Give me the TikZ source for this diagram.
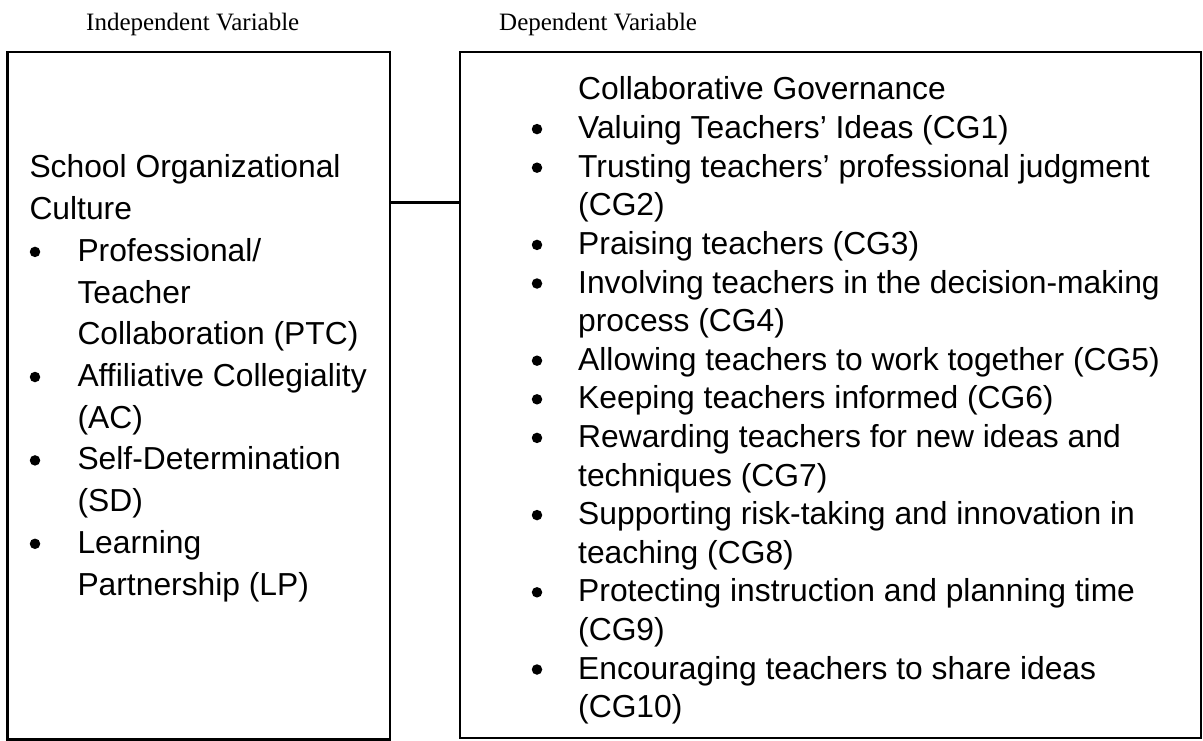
\documentclass[tikz,border=0pt]{standalone}
\usepackage{fontspec}
\setmainfont{Liberation Sans}
\newfontfamily\tnr{Liberation Serif}
\begin{document}
\begin{tikzpicture}[x=1pt,y=-1pt,
  box/.style={draw, line width=2.2pt, outer sep=0pt, inner sep=0pt, anchor=north west},
  txt/.style={anchor=base west, inner sep=0pt, font=\fontsize{31.8}{38.6}\selectfont},
  bul/.style={circle, fill=black, inner sep=0pt, minimum size=10.5pt},
  hdr/.style={anchor=base west, inner sep=0pt, font=\tnr\fontsize{25}{29}\selectfont},
  link/.style={line width=3.5pt}]
\useasboundingbox (0,0) rectangle (1203,741);
% headers
\node[hdr] (hiv) at (86,31) {Independent Variable};
\node[hdr] (hdv) at (499,31) {Dependent Variable};
% boxes
\node[box, minimum width=382.5pt, minimum height=687.8pt] (iv) at (7.5,51.7) {};
\node[box, minimum width=741pt, minimum height=686.5pt] (dv) at (460,51.7) {};
% connector
\coordinate (cy) at (0,202.7);
\draw[link] (iv.east |- cy) -- (dv.west |- cy);
% left text
\node[txt] (l1) at (29.3,178) {School Organizational};
\node[txt] (l2) at (29.3,219.7) {Culture};
\node[txt] (l3) at (77.3,261.4) {Professional/};
\node[txt] (l4) at (77.3,303.1) {Teacher};
\node[txt] (l5) at (77.3,344.8) {Collaboration (PTC)};
\node[txt] (l6) at (77.3,386.5) {Affiliative Collegiality};
\node[txt] (l7) at (77.3,428.2) {(AC)};
\node[txt] (l8) at (77.3,469.9) {Self-Determination};
\node[txt] (l9) at (77.3,511.6) {(SD)};
\node[txt] (l10) at (77.3,553.3) {Learning};
\node[txt] (l11) at (77.3,595) {Partnership (LP)};
\node[bul] (lb1) at (35,251.9) {};
\node[bul] (lb2) at (35,377) {};
\node[bul] (lb3) at (35,460.4) {};
\node[bul] (lb4) at (35,543.8) {};
% right text
\node[txt] (r1) at (578,100) {Collaborative Governance};
\node[txt] (r2) at (578,138.6) {Valuing Teachers’ Ideas (CG1)};
\node[txt] (r3) at (578,177.2) {Trusting teachers’ professional judgment};
\node[txt] (r4) at (578,215.8) {(CG2)};
\node[txt] (r5) at (578,254.4) {Praising teachers (CG3)};
\node[txt] (r6) at (578,293) {Involving teachers in the decision-making};
\node[txt] (r7) at (578,331.6) {process (CG4)};
\node[txt] (r8) at (578,370.2) {Allowing teachers to work together (CG5)};
\node[txt] (r9) at (578,408.8) {Keeping teachers informed (CG6)};
\node[txt] (r10) at (578,447.4) {Rewarding teachers for new ideas and};
\node[txt] (r11) at (578,486) {techniques (CG7)};
\node[txt] (r12) at (578,524.6) {Supporting risk-taking and innovation in};
\node[txt] (r13) at (578,563.2) {teaching (CG8)};
\node[txt] (r14) at (578,601.8) {Protecting instruction and planning time};
\node[txt] (r15) at (578,640.4) {(CG9)};
\node[txt] (r16) at (578,679) {Encouraging teachers to share ideas};
\node[txt] (r17) at (578,717.6) {(CG10)};
\node[bul] (rb2) at (537,129.1) {};
\node[bul] (rb3) at (537,167.7) {};
\node[bul] (rb5) at (537,244.9) {};
\node[bul] (rb6) at (537,283.5) {};
\node[bul] (rb8) at (537,360.7) {};
\node[bul] (rb9) at (537,399.3) {};
\node[bul] (rb10) at (537,437.9) {};
\node[bul] (rb12) at (537,515.1) {};
\node[bul] (rb14) at (537,592.3) {};
\node[bul] (rb16) at (537,669.5) {};
\end{tikzpicture}
\end{document}
